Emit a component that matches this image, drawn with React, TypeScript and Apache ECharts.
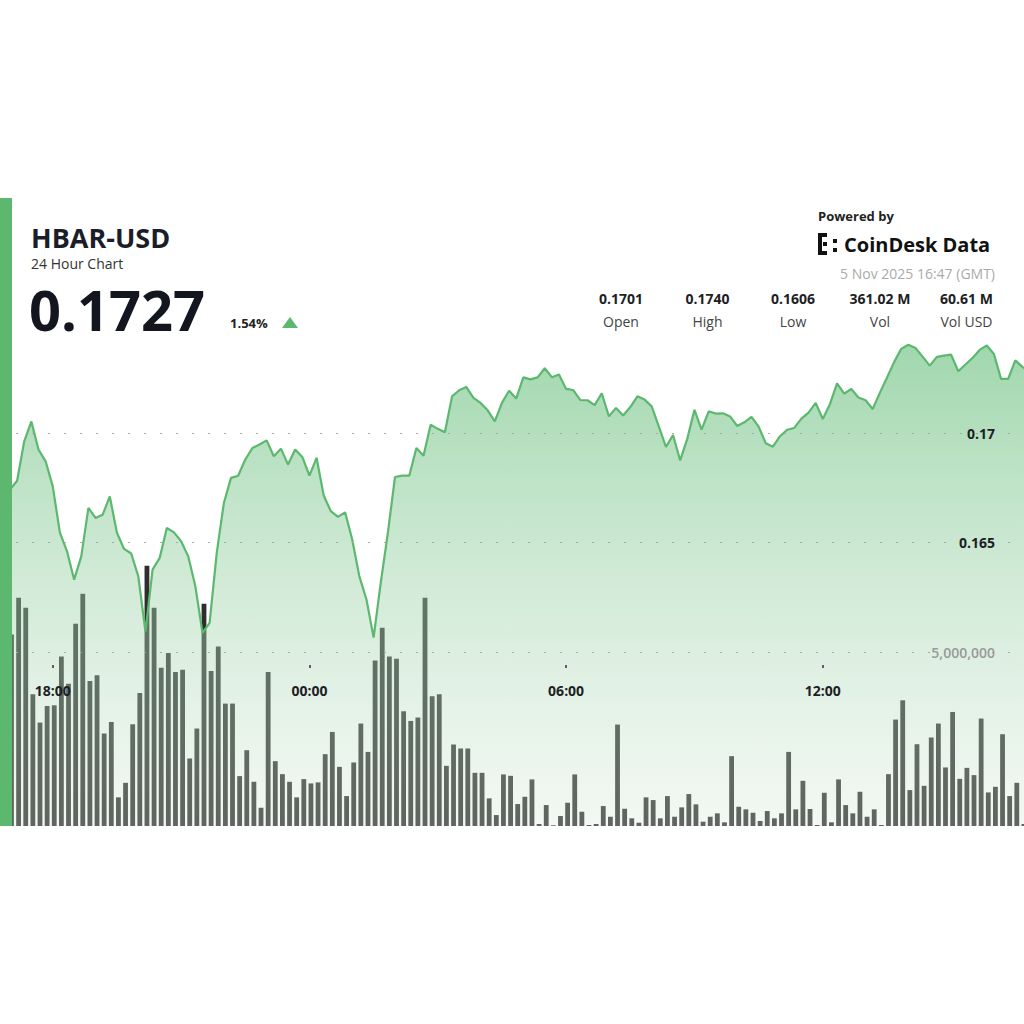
import React, { useEffect, useRef } from 'react';
import * as echarts from 'echarts';

// Time of each 10-minute sample, in minutes from 00:00 on 4 Nov 2025 (GMT)
const START_MIN = 1020; // 17:00
const STEP_MIN = 10;

const prices = [
  0.16743, 0.16784, 0.16965, 0.17056, 0.16927, 0.16873, 0.16758, 0.16546, 0.16460, 0.16330,
  0.16437, 0.16659, 0.16613, 0.16628, 0.16712, 0.16545, 0.16471, 0.16450, 0.16345, 0.16092,
  0.16376, 0.16430, 0.16567, 0.16547, 0.16506, 0.16437, 0.16300, 0.16086, 0.16132, 0.16453,
  0.16682, 0.16797, 0.16807, 0.16881, 0.16934, 0.16950, 0.16969, 0.16896, 0.16931, 0.16858,
  0.16927, 0.16893, 0.16807, 0.16889, 0.16716, 0.16644, 0.16618, 0.16639, 0.16514, 0.16345,
  0.16239, 0.16064, 0.16315, 0.16545, 0.16801, 0.16807, 0.16807, 0.16934, 0.16899, 0.17041,
  0.17022, 0.17006, 0.17171, 0.17199, 0.17214, 0.17164, 0.17141, 0.17107, 0.17056, 0.17141,
  0.17197, 0.17161, 0.17258, 0.17249, 0.17258, 0.17300, 0.17259, 0.17271, 0.17205, 0.17200,
  0.17154, 0.17153, 0.17131, 0.17185, 0.17079, 0.17118, 0.17083, 0.17122, 0.17171, 0.17156,
  0.17125, 0.17033, 0.16939, 0.16993, 0.16877, 0.16977, 0.17109, 0.17018, 0.17102, 0.17092,
  0.17093, 0.17079, 0.17035, 0.17052, 0.17077, 0.17032, 0.16956, 0.16940, 0.16988, 0.17018,
  0.17026, 0.17069, 0.17096, 0.17141, 0.17067, 0.17135, 0.17231, 0.17183, 0.17205, 0.17166,
  0.17153, 0.17113, 0.17187, 0.17256, 0.17328, 0.17389, 0.17408, 0.17393, 0.17353, 0.17312,
  0.17352, 0.17358, 0.17362, 0.17286, 0.17317, 0.17347, 0.17384, 0.17404, 0.17365, 0.17251,
  0.17251, 0.17336, 0.17306, 0.17284
];

const volumes = [
  5517000, 6572000, 6285000, 3793000, 2980000, 3457000, 3477000, 4885000, 4101000, 5825000,
  6687000, 4175000, 4339000, 2664000, 2997000, 825000, 1244000, 2931000, 3831000, 7500000,
  6285000, 4560000, 4980000, 4434000, 4503000, 1945000, 2808000, 6400000, 4463000, 5172000,
  3526000, 3526000, 1437000, 2184000, 1273000, 526000, 4434000, 1868000, 1494000, 1273000,
  825000, 1351000, 1227000, 1256000, 2069000, 2710000, 1704000, 862000, 1830000, 2951000,
  2135000, 4770000, 5710000, 4885000, 4819000, 3305000, 3026000, 3124000, 6572000, 3736000,
  3793000, 1733000, 2348000, 2233000, 2233000, 1532000, 1532000, 796000, 316000, 1486000,
  1445000, 632000, 842000, 1342000, 57000, 603000, 20000, 287000, 670000, 1486000,
  411000, 29000, 57000, 575000, 267000, 2922000, 497000, 221000, 95000, 825000,
  747000, 221000, 862000, 267000, 537000, 920000, 624000, 124000, 267000, 365000,
  106000, 2012000, 555000, 480000, 382000, 144000, 431000, 221000, 365000, 2135000,
  480000, 1302000, 489000, 29000, 957000, 106000, 1342000, 603000, 365000, 986000,
  267000, 480000, 29000, 1494000, 3066000, 3621000, 1034000, 2356000, 1158000, 2549000,
  2951000, 1687000, 3285000, 1359000, 1675000, 1466000, 3095000, 968000, 1129000, 2644000,
  862000, 1244000, 57000
];

const times = prices.map((_, i) => START_MIN + i * STEP_MIN);

const timeTicks = [1080, 1440, 1800, 2160];
const priceTicks = [0.165, 0.17];
const volumeTicks = [5000000];

const symbol = 'HBAR-USD';
const subtitle = '24 Hour Chart';
const lastPrice = '0.1727';
const changePct = '1.54%';
const stamp = '5 Nov 2025 16:47 (GMT)';
const statValues = ['0.1701', '0.1740', '0.1606', '361.02 M', '60.61 M'];
const statLabels = ['Open', 'High', 'Low', 'Vol', 'Vol USD'];

const FONT = '"Open Sans", "Noto Sans", sans-serif';
const GREEN = '#5cb86f';

function fmtTime(v: number) {
  const h = Math.floor(v / 60) % 24;
  const m = Math.round(v % 60);
  return String(h).padStart(2, '0') + ':' + String(m).padStart(2, '0');
}

export default function App() {
  const ref = useRef<HTMLDivElement>(null);

  useEffect(() => {
    if (!ref.current) return;
    const chart = echarts.init(ref.current, undefined, { renderer: 'svg' });

    const statCenters = [621, 707.5, 793, 880, 966.5];
    const statGraphics: any[] = [];
    statValues.forEach((v, i) => {
      statGraphics.push({
        type: 'text', x: statCenters[i], y: 298,
        style: { text: v, font: `bold 14px ${FONT}`, fill: '#1e1e24', textAlign: 'center', textVerticalAlign: 'middle', lineHeight: 16 }
      });
      statGraphics.push({
        type: 'text', x: statCenters[i], y: 321,
        style: { text: statLabels[i], font: `14px ${FONT}`, fill: '#444', textAlign: 'center', textVerticalAlign: 'middle', lineHeight: 16 }
      });
    });

    const xMin = 1006;
    const xMax = 2442.2;
    const barShift = 2.1;

    chart.setOption({
      animation: false,
      backgroundColor: '#ffffff',
      grid: [
        { left: 0, right: 0, top: 300, bottom: 198 },
        { left: 0, right: 0, top: 340, bottom: 198 }
      ],
      xAxis: [
        {
          type: 'value', gridIndex: 0, min: xMin, max: xMax, offset: -161, z: 10,
          axisLine: { show: false },
          axisTick: { show: true, length: 3, customValues: timeTicks, lineStyle: { color: '#333', width: 1.5 } },
          axisLabel: {
            show: true, customValues: timeTicks, margin: 18, formatter: (v: number) => fmtTime(v),
            color: '#1e1e24', fontSize: 14, fontWeight: 'bold', fontFamily: FONT
          },
          splitLine: { show: false }
        },
        {
          type: 'value', gridIndex: 1, min: xMin - barShift, max: xMax - barShift, show: false
        }
      ],
      yAxis: [
        {
          type: 'value', gridIndex: 0, min: 0.152, max: 0.17613, position: 'right', z: 10,
          axisLine: { show: false },
          axisTick: { show: false, customValues: priceTicks },
          axisLabel: {
            inside: true, margin: 29, customValues: priceTicks, formatter: (v: number) => String(v),
            color: '#1e1e24', fontSize: 14, fontWeight: 'bold', fontFamily: FONT
          },
          splitLine: { show: true, lineStyle: { type: [2, 14], color: '#a8a8a8', width: 1 } }
        },
        {
          type: 'value', gridIndex: 1, min: 0, max: 14000000, position: 'right', z: 10,
          axisLine: { show: false },
          axisTick: { show: false, customValues: volumeTicks },
          axisLabel: {
            inside: true, margin: 29, customValues: volumeTicks,
            formatter: (v: number) => v.toLocaleString('en-US'),
            color: '#9a9a9a', fontSize: 14, fontWeight: 600, fontFamily: FONT
          },
          splitLine: { show: true, lineStyle: { type: [2, 14], color: '#a8a8a8', width: 1 } }
        }
      ],
      series: [
        {
          type: 'bar', xAxisIndex: 1, yAxisIndex: 1, barWidth: 4.8, z: 2,
          itemStyle: { color: '#2e2e2e' },
          data: volumes.map((v, i) => [times[i], v])
        },
        {
          type: 'line', xAxisIndex: 0, yAxisIndex: 0, z: 3, showSymbol: false, symbol: 'none',
          lineStyle: { color: GREEN, width: 2.2 },
          areaStyle: {
            color: new echarts.graphic.LinearGradient(0, 0, 0, 1, [
              { offset: 0, color: 'rgba(96,188,118,0.85)' },
              { offset: 1, color: 'rgba(212,231,214,0.42)' }
            ])
          },
          data: prices.map((p, i) => [times[i], p])
        }
      ],
      graphic: [
        { type: 'rect', shape: { x: 0, y: 198, width: 12, height: 628 }, style: { fill: GREEN }, z: 100 },
        { type: 'text', x: 31, y: 237, style: { text: symbol, font: `bold 27px ${FONT}`, fill: '#1b1d2a', textVerticalAlign: 'middle', lineHeight: 22 } },
        { type: 'text', x: 31, y: 263, style: { text: subtitle, font: `14px ${FONT}`, fill: '#333', textVerticalAlign: 'middle', lineHeight: 13 } },
        { type: 'text', x: 29, y: 309, style: { text: lastPrice, font: `bold 56px ${FONT}`, fill: '#14161f', textVerticalAlign: 'middle', lineHeight: 50 } },
        { type: 'text', x: 230, y: 323, style: { text: changePct, font: `bold 13px ${FONT}`, fill: '#222', textVerticalAlign: 'middle' } },
        { type: 'polygon', shape: { points: [[282, 328], [298, 328], [290, 317]] }, style: { fill: GREEN } },
        { type: 'text', x: 818, y: 216, style: { text: 'Powered by', font: `bold 13px ${FONT}`, fill: '#222', textVerticalAlign: 'middle' } },
        { type: 'rect', shape: { x: 818, y: 233, width: 4, height: 22 }, style: { fill: '#111' } },
        { type: 'rect', shape: { x: 818, y: 233, width: 9, height: 4 }, style: { fill: '#111' } },
        { type: 'rect', shape: { x: 818, y: 251, width: 9, height: 4 }, style: { fill: '#111' } },
        { type: 'rect', shape: { x: 823, y: 242, width: 4, height: 4 }, style: { fill: '#111' } },
        { type: 'rect', shape: { x: 833, y: 239, width: 4, height: 4 }, style: { fill: '#111' } },
        { type: 'rect', shape: { x: 833, y: 248, width: 4, height: 4 }, style: { fill: '#111' } },
        { type: 'text', x: 844, y: 244, style: { text: 'CoinDesk Data', font: `bold 20px ${FONT}`, fill: '#111', textVerticalAlign: 'middle' } },
        { type: 'text', x: 995, y: 273, style: { text: stamp, font: `14px ${FONT}`, fill: '#aaa', textAlign: 'right', textVerticalAlign: 'middle' } },
        ...statGraphics
      ]
    });

    return () => chart.dispose();
  }, []);

  return <div ref={ref} style={{ position: 'fixed', left: 0, top: 0, width: 1024, height: 1024 }} />;
}
